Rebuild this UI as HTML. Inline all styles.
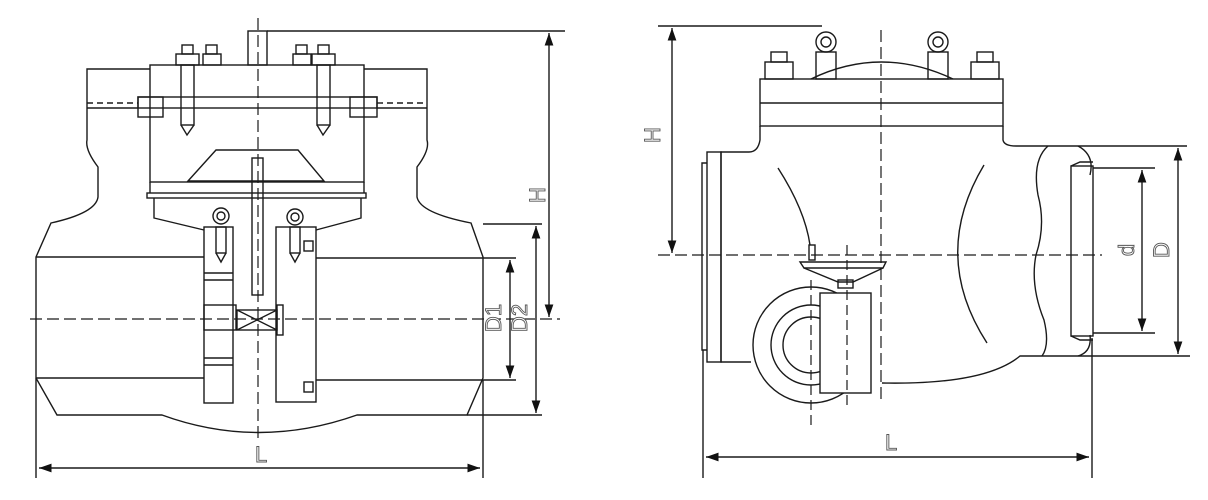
<!DOCTYPE html>
<html><head><meta charset="utf-8"><style>
html,body{margin:0;padding:0;background:#fff;}
svg{display:block}
text{font-family:"Liberation Sans",sans-serif;font-size:22px;fill:#fff;stroke:#555;stroke-width:0.9}
</style></head><body>
<svg width="1208" height="500" viewBox="0 0 1208 500" xmlns="http://www.w3.org/2000/svg">
<defs>
<marker id="a" viewBox="0 0 10 10" refX="10" refY="5" markerWidth="9" markerHeight="9" orient="auto-start-reverse"><path d="M0,1.5L10,5L0,8.5z" fill="#111"/></marker>
</defs>
<g fill="none" stroke="#1a1a1a" stroke-width="1.4">
<!-- LEFT VIEW -->
<path d="M150,69H87V140Q85,150 98,167V197Q96,213 51,223L36,257V378L57,415H162Q258,450 357,415H467L483,378V257L471,223Q420,213 417,197V167Q430,150 427,140V69H364"/>
<line x1="36" y1="257" x2="204" y2="257"/><line x1="316" y1="258" x2="483" y2="258"/>
<line x1="36" y1="378" x2="204" y2="378"/><line x1="316" y1="380" x2="483" y2="380"/>
<rect x="150" y="65" width="214" height="117"/>
<rect x="138" y="97" width="239" height="11"/>
<rect x="138" y="97" width="25" height="20"/><rect x="350" y="97" width="27" height="20"/>
<line x1="87" y1="103" x2="138" y2="103" stroke-dasharray="6 4"/><line x1="377" y1="103" x2="427" y2="103" stroke-dasharray="6 4"/>
<line x1="87" y1="108" x2="138" y2="108"/><line x1="377" y1="108" x2="427" y2="108"/>
<rect x="147" y="193" width="219" height="5"/>
<line x1="150" y1="182" x2="150" y2="193"/><line x1="364" y1="182" x2="364" y2="193"/>
<path d="M154,198V218L204,230M316,230L361,218V198"/>
<path d="M188,181L216,150H298L324,181Z"/>
<rect x="252" y="158" width="11" height="137"/>
<rect x="204" y="227" width="29" height="176"/>
<rect x="276" y="227" width="40" height="175"/>
<line x1="204" y1="273" x2="233" y2="273"/><line x1="204" y1="280" x2="233" y2="280"/>
<line x1="204" y1="358" x2="233" y2="358"/><line x1="204" y1="365" x2="233" y2="365"/>
<rect x="204" y="305" width="32" height="25"/>
<rect x="237" y="310" width="40" height="20"/><path d="M237,310L277,330M237,330L277,310"/>
<rect x="277" y="305" width="6" height="30"/>
<rect x="304" y="241" width="9" height="10"/><rect x="304" y="382" width="9" height="10"/>
<circle cx="221" cy="216" r="8"/><circle cx="221" cy="216" r="4"/>
<rect x="216" y="227" width="10" height="26"/><path d="M216,253L221,262L226,253"/>
<circle cx="295" cy="217" r="8"/><circle cx="295" cy="217" r="4"/>
<rect x="290" y="227" width="10" height="26"/><path d="M290,253L295,262L300,253"/>
<!-- bolts -->
<rect x="176" y="54" width="23" height="11"/><rect x="182" y="45" width="11" height="9"/>
<rect x="203" y="54" width="18" height="11"/><rect x="206" y="45" width="11" height="9"/>
<rect x="293" y="54" width="18" height="11"/><rect x="296" y="45" width="11" height="9"/>
<rect x="312" y="54" width="23" height="11"/><rect x="318" y="45" width="11" height="9"/>
<rect x="181" y="65" width="13" height="60"/><path d="M181,125L187,135L194,125"/>
<rect x="317" y="65" width="13" height="60"/><path d="M317,125L323,135L330,125"/>
<rect x="248" y="31" width="19" height="34"/>
<!-- centerlines -->
<line x1="258" y1="18" x2="258" y2="440" stroke-dasharray="12 5" stroke-width="1.2"/>
<line x1="30" y1="319" x2="560" y2="319" stroke-dasharray="12 5" stroke-width="1.2"/>
<!-- dims left -->
<line x1="267" y1="31" x2="565" y2="31"/>
<line x1="549" y1="33" x2="549" y2="317" marker-start="url(#a)" marker-end="url(#a)"/>
<line x1="483" y1="224" x2="542" y2="224"/><line x1="467" y1="415" x2="542" y2="415"/>
<line x1="536" y1="226" x2="536" y2="413" marker-start="url(#a)" marker-end="url(#a)"/>
<line x1="483" y1="258" x2="516" y2="258"/><line x1="483" y1="380" x2="516" y2="380"/>
<line x1="510" y1="260" x2="510" y2="378" marker-start="url(#a)" marker-end="url(#a)"/>
<line x1="36" y1="378" x2="36" y2="478"/><line x1="483" y1="380" x2="483" y2="478"/>
<line x1="39" y1="468" x2="480" y2="468" marker-start="url(#a)" marker-end="url(#a)"/>

<!-- RIGHT VIEW -->
<rect x="760" y="79" width="243" height="47"/><line x1="760" y1="103" x2="1003" y2="103"/>
<path d="M811,79Q881,45 953,79"/>
<path d="M760,126V140Q758,152 749,152H721V362H751"/>
<path d="M1003,126V140Q1004,146 1016,146H1187"/>
<rect x="707" y="152" width="14" height="210"/>
<path d="M707,163H702V350H707"/>
<path d="M882,383Q985,385 1020,356H1091"/>
<path d="M1048,146Q1032,160 1038,195Q1046,225 1036,255Q1030,285 1044,320Q1050,345 1042,356"/>
<path d="M1078,146Q1095,155 1090,175M1078,356Q1092,352 1090,335"/>
<rect x="1071" y="166" width="22" height="170"/>
<path d="M1071,166L1080,162H1093M1071,336L1080,340H1093"/>
<path d="M778,168Q805,210 810,245"/>
<path d="M984,165Q930,255 987,343"/>
<circle cx="811" cy="345" r="58"/><circle cx="811" cy="345" r="40"/><circle cx="811" cy="345" r="28"/>
<path d="M800,262H886L883,268H804Z"/>
<path d="M804,268L838,282H853L883,268"/>
<rect x="838" y="280" width="15" height="8"/>
<rect x="820" y="293" width="51" height="100" fill="#fff"/>
<rect x="809" y="245" width="6" height="15"/>
<!-- eye bolts and nuts -->
<circle cx="826" cy="42" r="10"/><circle cx="826" cy="42" r="5"/><rect x="816" y="52" width="20" height="27"/>
<circle cx="938" cy="42" r="10"/><circle cx="938" cy="42" r="5"/><rect x="928" y="52" width="20" height="27"/>
<rect x="765" y="62" width="28" height="17"/><rect x="771" y="52" width="16" height="10"/>
<rect x="971" y="62" width="28" height="17"/><rect x="977" y="52" width="16" height="10"/>
<!-- centerlines -->
<line x1="881" y1="30" x2="881" y2="400" stroke-dasharray="12 5" stroke-width="1.2"/>
<line x1="658" y1="255" x2="1102" y2="255" stroke-dasharray="12 5" stroke-width="1.2"/>
<line x1="811" y1="280" x2="811" y2="425" stroke-dasharray="10 5" stroke-width="1.2"/>
<line x1="847" y1="245" x2="847" y2="405" stroke-dasharray="10 5" stroke-width="1.2"/>
<!-- dims right -->
<line x1="658" y1="26" x2="822" y2="26"/>
<line x1="672" y1="28" x2="672" y2="253" marker-start="url(#a)" marker-end="url(#a)"/>
<line x1="1093" y1="168" x2="1155" y2="168"/><line x1="1093" y1="333" x2="1155" y2="333"/>
<line x1="1142" y1="170" x2="1142" y2="331" marker-start="url(#a)" marker-end="url(#a)"/>
<line x1="1091" y1="356" x2="1190" y2="356"/>
<line x1="1178" y1="148" x2="1178" y2="354" marker-start="url(#a)" marker-end="url(#a)"/>
<line x1="703" y1="350" x2="703" y2="478"/><line x1="1092" y1="338" x2="1092" y2="478"/>
<line x1="706" y1="457" x2="1089" y2="457" marker-start="url(#a)" marker-end="url(#a)"/>
</g>
<text x="255" y="462">L</text>
<text x="885" y="450">L</text>
<text transform="translate(545,195) rotate(-90)" text-anchor="middle">H</text>
<text transform="translate(660,135) rotate(-90)" text-anchor="middle">H</text>
<text transform="translate(501,318) rotate(-90)" text-anchor="middle">D1</text>
<text transform="translate(527,318) rotate(-90)" text-anchor="middle">D2</text>
<text transform="translate(1134,250) rotate(-90)" text-anchor="middle">d</text>
<text transform="translate(1169,250) rotate(-90)" text-anchor="middle">D</text>
</svg>
</body></html>
